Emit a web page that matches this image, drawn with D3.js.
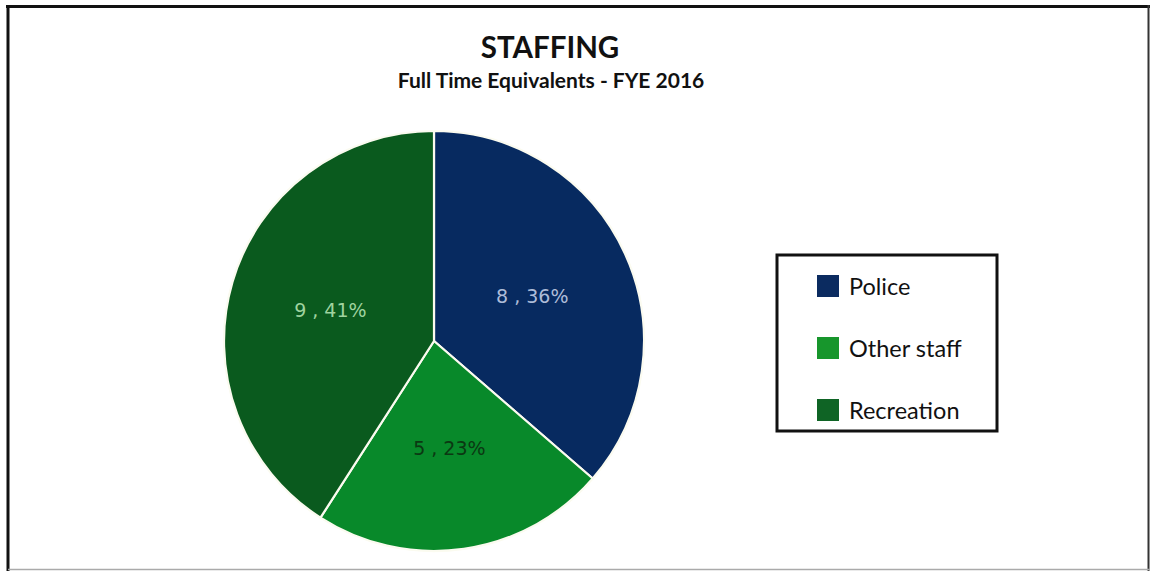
<!DOCTYPE html>
<html>
<head>
<meta charset="utf-8">
<script src="https://cdn.jsdelivr.net/npm/d3@7"></script>
<style>
  html, body { margin: 0; padding: 0; background: #ffffff; }
  svg { display: block; }
</style>
</head>
<body>
<svg id="chart" width="1151" height="571"></svg>
<script>
// Staffing FTEs, FYE 2016
const categories = ["Police", "Other staff", "Recreation"];
const fteValues = [8, 5, 9];
const sliceColors = ["#072a60", "#08892a", "#0a5a1e"];
const swatchColors = ["#0b2b60", "#17962c", "#0f6425"];
const labelColors = ["#aebcd8", "#0b3812", "#9fd39f"];
const titleText = "STAFFING";
const subtitleText = "Full Time Equivalents - FYE 2016";

const svg = d3.select("#chart");
const W = 1151, H = 571;

svg.append("rect").attr("width", W).attr("height", H).attr("fill", "#ffffff");

// frame around the chart area
const frame = svg.append("g");
frame.append("line").attr("x1", 6).attr("x2", 1150).attr("y1", 6.5).attr("y2", 6.5)
  .attr("stroke", "#111").attr("stroke-width", 3);
frame.append("line").attr("x1", 8).attr("x2", 8).attr("y1", 5).attr("y2", 571)
  .attr("stroke", "#111").attr("stroke-width", 3);
frame.append("line").attr("x1", 1148.5).attr("x2", 1148.5).attr("y1", 5).attr("y2", 571)
  .attr("stroke", "#333").attr("stroke-width", 2);
frame.append("line").attr("x1", 8).attr("x2", 1150).attr("y1", 569.5).attr("y2", 569.5)
  .attr("stroke", "#aaa").attr("stroke-width", 1.5);

// titles
svg.append("text").attr("x", 550).attr("y", 58)
  .attr("text-anchor", "middle")
  .attr("font-family", "Lato, 'Open Sans', sans-serif")
  .attr("font-weight", 700).attr("font-size", 29.5).attr("fill", "#111")
  .text(titleText);
svg.append("text").attr("x", 551).attr("y", 88)
  .attr("text-anchor", "middle")
  .attr("font-family", "Lato, 'Open Sans', sans-serif")
  .attr("font-weight", 700).attr("font-size", 21).attr("fill", "#111")
  .text(subtitleText);

// pie
const cx = 434, cy = 341, R = 210;
const total = d3.sum(fteValues);
const pie = d3.pie().sort(null).value(d => d);
const arcs = pie(fteValues);
const arc = d3.arc().innerRadius(0).outerRadius(R);
const labelArc = d3.arc().innerRadius(108).outerRadius(108);

const g = svg.append("g").attr("transform", `translate(${cx},${cy})`);
g.selectAll("path.slice").data(arcs).enter().append("path")
  .attr("class", "slice")
  .attr("d", arc)
  .attr("fill", (d, i) => sliceColors[i])
  .attr("stroke", "#fbfbf0")
  .attr("stroke-width", 2.2)
  .attr("stroke-linejoin", "round");

g.selectAll("text.lbl").data(arcs).enter().append("text")
  .attr("class", "lbl")
  .attr("transform", d => `translate(${labelArc.centroid(d)})`)
  .attr("text-anchor", "middle")
  .attr("dy", "0.36em")
  .attr("font-family", "'DejaVu Sans', Verdana, sans-serif")
  .attr("font-size", 19)
  .attr("fill", (d, i) => labelColors[i])
  .text(d => `${d.data} , ${Math.round(d.data / total * 100)}%`);

// legend
const legend = svg.append("g");
legend.append("rect").attr("x", 777).attr("y", 255).attr("width", 220).attr("height", 176)
  .attr("fill", "#fff").attr("stroke", "#111").attr("stroke-width", 3);
const rowY = d3.scalePoint().domain(categories).range([286, 410]);
const items = legend.selectAll("g.item").data(categories).enter().append("g")
  .attr("class", "item")
  .attr("transform", d => `translate(0,${rowY(d)})`);
items.append("rect").attr("x", 817).attr("y", -11).attr("width", 22).attr("height", 22)
  .attr("fill", (d, i) => swatchColors[i]);
items.append("text").attr("x", 849).attr("y", 8.5)
  .attr("font-family", "Lato, 'Open Sans', sans-serif")
  .attr("font-size", 23.5).attr("fill", "#111")
  .text(d => d);
</script>
</body>
</html>
